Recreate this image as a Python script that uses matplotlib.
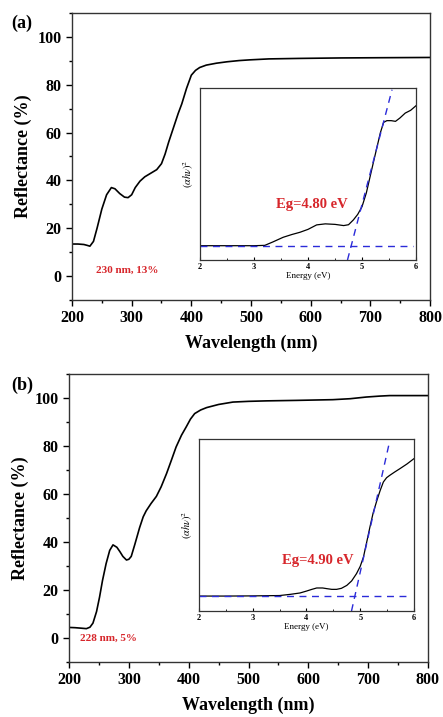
import matplotlib
matplotlib.use("Agg")
import matplotlib.pyplot as plt
from matplotlib.ticker import MultipleLocator

plt.rcParams['font.family'] = ['Liberation Serif', 'DejaVu Serif']
plt.rcParams['mathtext.fontset'] = 'stix'

# ---- data panel (a) ----
wl_a = [200, 210, 220, 226, 230, 236, 242, 250, 258, 266, 272, 280, 288, 294, 300, 306, 314, 322, 332, 342,
        350, 356, 362, 370, 378, 384, 392, 400, 407, 414, 425, 442, 460, 480, 498, 530, 580, 650, 720, 800]
r_a = [13.4, 13.4, 13.2, 12.8, 12.5, 14.5, 20, 28, 34, 37, 36.5, 34.5, 33, 32.8, 34, 37, 39.7, 41.5, 43, 44.5,
       47, 51, 56, 62, 68, 72, 78.5, 84, 86, 87.2, 88.2, 89, 89.6, 90.1, 90.4, 90.8, 91.0, 91.2, 91.3, 91.4]
e_a = [2.0, 2.5, 3.0, 3.2, 3.35, 3.54, 3.7, 3.85, 4.0, 4.16, 4.32, 4.5, 4.66, 4.75, 4.84, 4.92, 5.0, 5.08,
       5.15, 5.22, 5.28, 5.34, 5.4, 5.46, 5.54, 5.62, 5.7, 5.8, 5.9, 6.0]
ah_a = [0.083, 0.083, 0.083, 0.085, 0.105, 0.132, 0.148, 0.161, 0.178, 0.204, 0.21, 0.207, 0.2, 0.205,
        0.233, 0.265, 0.31, 0.39, 0.485, 0.58, 0.66, 0.74, 0.8, 0.81, 0.81, 0.806, 0.825, 0.854, 0.87, 0.897]
eg_a = 4.80
base_a = 0.083
slope_a = 1.2

# ---- data panel (b) ----
wl_b = [200, 210, 220, 229, 235, 240, 246, 251, 256, 262, 268, 273.5, 280, 285, 290, 296, 300, 304, 310, 318,
        324, 329, 337, 346, 354, 363, 371, 379, 388, 396, 403, 410, 420, 430, 450, 474, 500, 530, 580, 641,
        670, 697, 720, 736, 770, 800]
r_b = [4.4, 4.3, 4.1, 3.9, 4.5, 6.2, 11, 17, 24, 31, 36.5, 38.8, 37.8, 36, 34, 32.5, 32.8, 34, 39, 46,
       50.5, 53, 56, 59, 63, 68.5, 74, 79.6, 84.5, 88, 91.2, 93.5, 95, 96, 97.3, 98.3, 98.6, 98.8, 99.0, 99.3,
       99.7, 100.4, 100.8, 101, 101, 101]
e_b = [2.0, 2.5, 3.0, 3.5, 3.7, 3.88, 4.0, 4.1, 4.19, 4.3, 4.38, 4.47, 4.56, 4.65, 4.75, 4.84, 4.93, 5.0,
       5.06, 5.12, 5.18, 5.24, 5.31, 5.37, 5.43, 5.49, 5.55, 5.64, 5.74, 5.87, 6.0]
ah_b = [0.087, 0.087, 0.088, 0.09, 0.097, 0.105, 0.116, 0.126, 0.134, 0.134, 0.13, 0.126, 0.126, 0.132,
        0.149, 0.175, 0.217, 0.26, 0.314, 0.4, 0.488, 0.57, 0.643, 0.7, 0.75, 0.775, 0.789, 0.808, 0.828,
        0.855, 0.886]
eg_b = 4.90
base_b = 0.087
slope_b = 1.39

red = '#d7262b'
blue = '#2b2bd9'

fig = plt.figure(figsize=(4.43, 7.17), dpi=100)


def main_panel(rect, wl, r, note, note_xy):
    ax = fig.add_axes(rect)
    ax.plot(wl, r, color='black', lw=1.2)
    ax.set_xlim(200, 800)
    ax.set_ylim(-10, 110)
    ax.xaxis.set_major_locator(MultipleLocator(100))
    ax.xaxis.set_minor_locator(MultipleLocator(50))
    ax.yaxis.set_major_locator(MultipleLocator(20))
    ax.yaxis.set_minor_locator(MultipleLocator(10))
    ax.tick_params(which='both', direction='out', top=False, right=False, labelsize=11.5, width=1)
    ax.tick_params(which='major', length=4)
    ax.tick_params(which='minor', length=2.5)
    for lab in ax.get_xticklabels() + ax.get_yticklabels():
        lab.set_fontweight('bold')
    for s in ax.spines.values():
        s.set_color('#333333')
        s.set_linewidth(1)
    ax.set_xlabel('Wavelength (nm)', fontsize=13, fontweight='bold', labelpad=6)
    ax.set_ylabel('Reflectance (%)', fontsize=13, fontweight='bold', labelpad=4)
    ax.text(note_xy[0], note_xy[1], note, color=red, fontsize=8, fontweight='bold', va='center')
    return ax


def inset_panel(rect, e, ah, eg, base, slope, label_xy, eglabel):
    ax = fig.add_axes(rect)
    ax.plot(e, ah, color='black', lw=0.9)
    ax.plot([2, 5.95], [base, base], color=blue, lw=1, ls=(0, (5, 4)))
    y0, y1 = 0.0, 0.99
    x0 = eg + (y0 - base) / slope
    x1 = eg + (y1 - base) / slope
    ax.plot([x0, x1], [y0, y1], color=blue, lw=1, ls=(0, (5, 4)))
    ax.set_xlim(2, 6)
    ax.set_ylim(0, 1)
    ax.set_yticks([])
    ax.xaxis.set_major_locator(MultipleLocator(1))
    ax.xaxis.set_minor_locator(MultipleLocator(0.5))
    ax.tick_params(which='both', direction='in', top=False, labelsize=6, pad=2)
    ax.tick_params(which='major', length=2.5)
    ax.tick_params(which='minor', length=1.5)
    for lab in ax.get_xticklabels():
        lab.set_fontweight('bold')
    for s in ax.spines.values():
        s.set_color('#333333')
        s.set_linewidth(0.9)
    ax.set_xlabel('Energy (eV)', fontsize=6.5, labelpad=1)
    ax.set_ylabel(r'$(\alpha h\nu)^2$', fontsize=7.5, labelpad=3)
    ax.text(label_xy[0], label_xy[1], eglabel, color=red, fontsize=10.5, fontweight='bold', va='center')
    return ax


main_panel([0.1625, 0.5816, 0.8082, 0.4003], wl_a, r_a, '230 nm, 13%', (241, 2.6))
inset_panel([0.4515, 0.6374, 0.4876, 0.2399], e_a, ah_a, eg_a, base_a, slope_a, (3.4, 0.32),
            'Eg=4.80 eV')
main_panel([0.1558, 0.0767, 0.8103, 0.4017], wl_b, r_b, '228 nm, 5%', (218, 0.0))
inset_panel([0.4492, 0.1478, 0.4853, 0.2399], e_b, ah_b, eg_b, base_b, slope_b, (3.54, 0.295),
            'Eg=4.90 eV')

fig.text(0.025, 0.968, '(a)', fontsize=13, fontweight='bold', va='center')
fig.text(0.025, 0.462, '(b)', fontsize=13, fontweight='bold', va='center')

fig.savefig('out.png', dpi=100)
